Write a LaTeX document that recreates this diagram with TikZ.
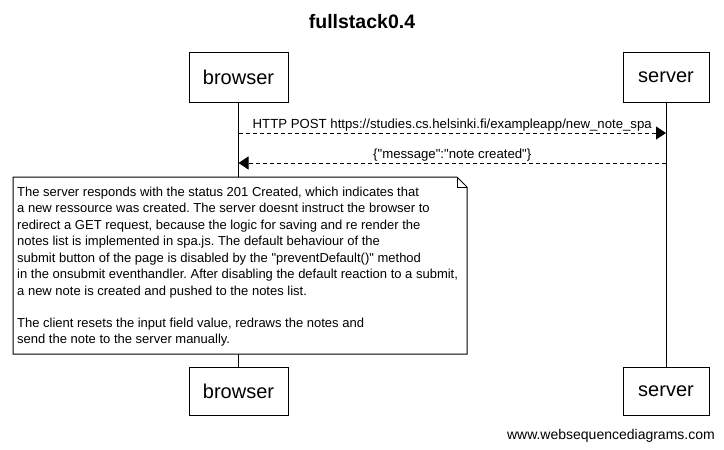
\documentclass[tikz,border=0pt]{standalone}
\usepackage{fontspec}
\setmainfont{Liberation Sans}[Ligatures=TeXOff]
\usetikzlibrary{arrows.meta,positioning,calc}
\frenchspacing

\begin{document}
\begin{tikzpicture}[
    x=1pt, y=-1pt,
    actor/.style={rectangle, draw, line width=1pt, inner sep=0pt, minimum height=50pt, font=\fontsize{20}{24}\selectfont},
    lifeline/.style={line width=1pt},
    msg/.style={line width=1pt, dash pattern=on 4pt off 3pt, -{Triangle[length=10pt,width=13pt]}},
    msglabel/.style={font=\fontsize{13.2}{15}\selectfont, inner sep=1.5pt},
    notetext/.style={font=\fontsize{13}{16.5}\selectfont, align=left, inner sep=0pt}
]
    \useasboundingbox[fill=white] (0,0) rectangle (724,450);

    \node[font=\bfseries\fontsize{19.5}{22}\selectfont] (title) at (362,22) {fullstack0.4};

    % participants
    \node[actor, minimum width=99pt] (browsertop) at (238.5,77.5) {browser};
    \node[actor, minimum width=86pt] (servertop) at (666,77.5) {server};
    \node[actor, minimum width=99pt, minimum height=48pt] (browserbot) at (238.5,391) {browser};
    \node[actor, minimum width=86pt, minimum height=48pt] (serverbot) at (666,391) {server};

    \draw[lifeline] (browsertop) -- (browserbot);
    \draw[lifeline] (servertop) -- (serverbot);

    % messages
    \coordinate (bpost) at (browsertop.south |- 0,133);
    \coordinate (spost) at (servertop.south |- 0,133);
    \coordinate (bresp) at (browsertop.south |- 0,163);
    \coordinate (sresp) at (servertop.south |- 0,163);

    \draw[msg] (bpost) -- (spost) node[midway, above, msglabel] {HTTP POST https://studies.cs.helsinki.fi/exampleapp/new\_note\_spa};
    \draw[msg] (sresp) -- (bresp) node[midway, above, msglabel] {\{"message":"note created"\}};

    % note
    \draw[line width=1pt, fill=white]
        (13,177) -- (457,177) -- (467,187) -- (467,354) -- (13,354) -- cycle;
    \draw[line width=1pt] (457,177) -- (457,187) -- (467,187);
    \node[notetext, anchor=north west] (note) at (17,186.5) {The server responds with the status 201 Created, which indicates that\\
a new ressource was created. The server doesnt instruct the browser to\\
redirect a GET request, because the logic for saving and re render the\\
notes list is implemented in spa.js. The default behaviour of the\\
submit button of the page is disabled by the "preventDefault()" method\\
in the onsubmit eventhandler. After disabling the default reaction to a submit,\\
a new note is created and pushed to the notes list.\\[15.5pt]
The client resets the input field value, redraws the notes and\\
send the note to the server manually.};

    \node[font=\fontsize{14}{17}\selectfont, anchor=east, inner sep=0pt] (credit) at (715,436) {www.websequencediagrams.com};
\end{tikzpicture}
\end{document}
